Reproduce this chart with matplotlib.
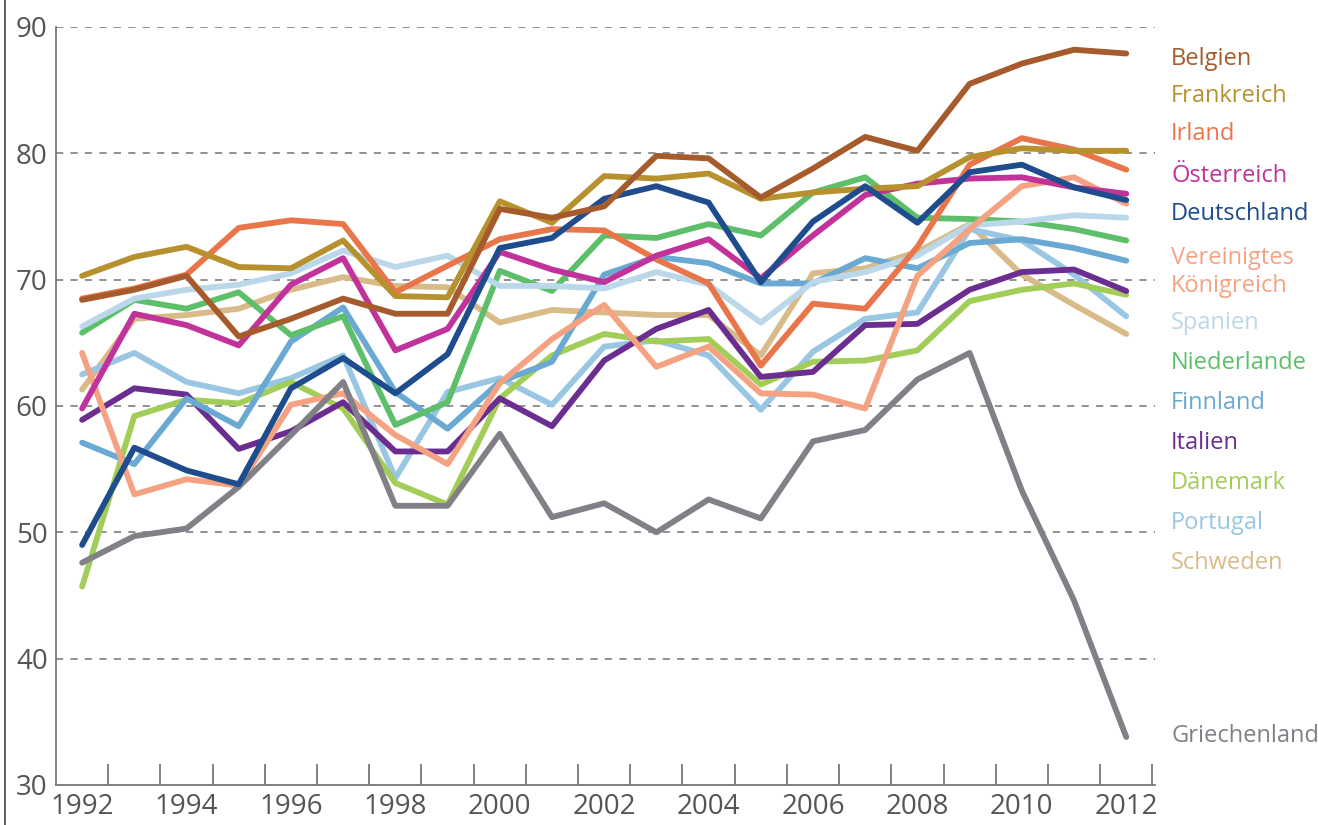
import matplotlib
matplotlib.use("Agg")
import numpy as np
from matplotlib import pyplot as plt
from matplotlib.lines import Line2D

plt.rcParams['font.family'] = ['Liberation Sans Narrow', 'Open Sans', 'DejaVu Sans']

#------------------------------------------------------------------------------#
years = list(range(1992, 2013))

belgien = [68.4, 69.2, 70.3, 65.5, 66.9, 68.5, 67.3, 67.3, 75.6, 74.9, 75.8,
           79.8, 79.6, 76.5, 78.8, 81.3, 80.2, 85.5, 87.1, 88.2, 87.9]
frankreich = [70.3, 71.8, 72.6, 71.0, 70.9, 73.1, 68.7, 68.6, 76.2, 74.5, 78.2,
              78.0, 78.4, 76.4, 76.9, 77.2, 77.4, 79.7, 80.4, 80.2, 80.2]
irland = [68.5, 69.3, 70.4, 74.1, 74.7, 74.4, 69.0, 71.1, 73.2, 74.0, 73.9,
          71.6, 69.7, 63.2, 68.1, 67.7, 72.6, 79.1, 81.2, 80.3, 78.7]
oesterreich = [59.8, 67.3, 66.4, 64.8, 69.6, 71.7, 64.4, 66.1, 72.2, 70.8, 69.8,
               71.9, 73.2, 70.1, 73.5, 76.7, 77.6, 78.0, 78.1, 77.3, 76.8]
deutschland = [49.0, 56.7, 54.9, 53.8, 61.4, 63.8, 61.0, 64.1, 72.5, 73.3, 76.4,
               77.4, 76.1, 69.8, 74.6, 77.4, 74.5, 78.5, 79.1, 77.3, 76.3]
vk = [64.2, 53.0, 54.2, 53.7, 60.1, 61.0, 57.7, 55.4, 61.8, 65.3, 68.0,
      63.1, 64.7, 61.0, 60.9, 59.8, 70.3, 74.0, 77.4, 78.1, 76.0]
spanien = [66.3, 68.5, 69.2, 69.6, 70.5, 72.3, 71.0, 71.9, 69.5, 69.5, 69.3,
           70.6, 69.6, 66.6, 69.8, 70.6, 71.9, 74.3, 74.6, 75.1, 74.9]
niederlande = [65.8, 68.4, 67.7, 69.0, 65.6, 67.1, 58.5, 60.3, 70.7, 69.1, 73.5,
               73.3, 74.4, 73.5, 76.9, 78.1, 74.9, 74.8, 74.6, 74.0, 73.1]
finnland = [57.1, 55.4, 60.6, 58.4, 65.1, 67.8, 61.1, 58.2, 61.9, 63.5, 70.4,
            71.8, 71.3, 69.7, 69.7, 71.7, 70.9, 72.9, 73.2, 72.5, 71.5]
italien = [58.9, 61.4, 60.9, 56.6, 58.0, 60.3, 56.4, 56.4, 60.6, 58.4, 63.6,
           66.1, 67.6, 62.3, 62.7, 66.4, 66.5, 69.2, 70.6, 70.8, 69.1]
daenemark = [45.7, 59.2, 60.5, 60.2, 61.9, 59.8, 53.9, 52.2, 60.6, 64.0, 65.7,
             65.1, 65.3, 61.7, 63.5, 63.6, 64.4, 68.3, 69.2, 69.7, 68.8]
portugal = [62.5, 64.2, 61.9, 61.0, 62.2, 64.0, 54.3, 61.1, 62.2, 60.1, 64.7,
            65.2, 64.0, 59.7, 64.3, 66.9, 67.4, 74.0, 73.1, 70.4, 67.1]
schweden = [61.3, 66.9, 67.2, 67.7, 69.2, 70.2, 69.5, 69.4, 66.6, 67.6, 67.4,
            67.2, 67.2, 64.0, 70.5, 70.9, 72.2, 74.4, 70.4, 68.0, 65.7]
griechenland = [47.6, 49.7, 50.3, 53.6, 57.7, 61.9, 52.1, 52.1, 57.8, 51.2, 52.3,
                50.0, 52.6, 51.1, 57.2, 58.1, 62.1, 64.2, 53.3, 44.6, 33.8]

# name, values, colour (draw order: first = bottom)
series = [
    ('Schweden', schweden, '#d8bb88'),
    ('Portugal', portugal, '#98c6e3'),
    ('Dänemark', daenemark, '#a2cd58'),
    ('Italien', italien, '#6b2d8f'),
    ('Finnland', finnland, '#6aa9d1'),
    ('Niederlande', niederlande, '#5dbf69'),
    ('Spanien', spanien, '#bad8ea'),
    ('Vereinigtes\nKönigreich', vk, '#f5a283'),
    ('Griechenland', griechenland, '#808086'),
    ('Irland', irland, '#e9764b'),
    ('Österreich', oesterreich, '#c1329b'),
    ('Frankreich', frankreich, '#b8912f'),
    ('Deutschland', deutschland, '#1f4c8c'),
    ('Belgien', belgien, '#a65b2d'),
]

# label y positions (data units) at the right edge
label_y = {'Belgien': 87.5, 'Frankreich': 84.5, 'Irland': 81.5, 'Österreich': 78.2,
           'Deutschland': 75.2, 'Vereinigtes\nKönigreich': 70.6, 'Spanien': 66.6,
           'Niederlande': 63.4, 'Finnland': 60.2, 'Italien': 57.1, 'Dänemark': 53.9,
           'Portugal': 50.7, 'Schweden': 47.6, 'Griechenland': 33.9}

#------------------------------------------------------------------------------#
fig = plt.figure(figsize=(13.18, 8.25), dpi=100)
ax = fig.add_axes([0.0425, 0.0485, 0.8338, 0.9188])

axis_col = '#777777'
for y in range(40, 91, 10):
    ax.axhline(y, color='#888888', lw=1.3, ls=(0, (4, 4)), zorder=1)

for name, vals, col in series:
    ax.plot(years, vals, color=col, lw=4.2, solid_capstyle='round',
            solid_joinstyle='round', zorder=3)
    ax.text(2012.86, label_y[name], name, color=col, fontsize=17,
            va='center', ha='left', linespacing=1.25, clip_on=False)

ax.set_xlim(1991.5, 2012.55)
ax.set_ylim(30, 90)

ax.spines['top'].set_visible(False)
ax.spines['right'].set_visible(False)
ax.spines['left'].set_color(axis_col)
ax.spines['bottom'].set_color(axis_col)
ax.spines['left'].set_linewidth(1.3)
ax.spines['bottom'].set_linewidth(1.3)

ax.set_yticks(range(30, 91, 10))
ax.tick_params(axis='y', length=0, pad=6, labelsize=20, labelcolor='#555555')

ax.set_xticks(range(1992, 2013, 2))
ax.set_xticks(np.arange(1992.5, 2013, 1.0), minor=True)
ax.tick_params(axis='x', which='major', length=0, pad=6, labelsize=20,
               labelcolor='#555555')
ax.tick_params(axis='x', which='minor', direction='in', length=15,
               width=1.3, color=axis_col)

# thin frame line at the very left of the picture
fig.add_artist(Line2D([5 / 1318, 5 / 1318], [0, 1], color='#444444', lw=1.2))

fig.savefig('out.png', dpi=100)
